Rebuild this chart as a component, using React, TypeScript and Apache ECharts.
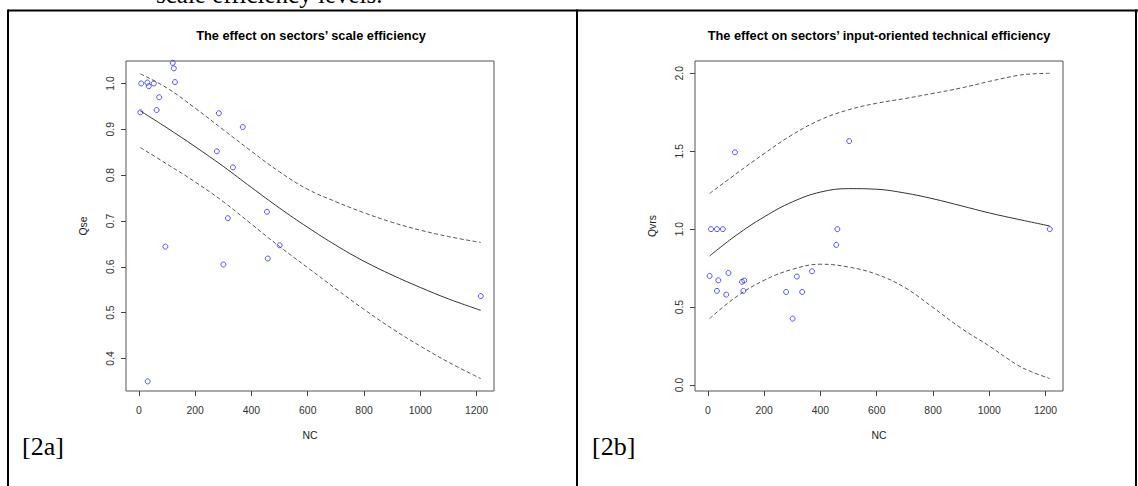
import React, { useEffect, useRef } from "react";
import * as echarts from "echarts";

// ---------- data ----------
const xTicks = [0, 200, 400, 600, 800, 1000, 1200];
const seTicks = [0.4, 0.5, 0.6, 0.7, 0.8, 0.9, 1.0];
const vrsTicks = [0, 0.5, 1.0, 1.5, 2.0];

// Panel 2a: scale efficiency (Qse vs NC)
const seX = [5, 8, 30, 31, 35, 53, 63, 72, 94, 120, 124, 128, 277, 284, 300, 316, 334, 369, 455, 458, 500, 1215];
const seY = [0.937, 1.0, 1.002, 0.35, 0.994, 1.0, 0.942, 0.97, 0.644, 1.045, 1.033, 1.003, 0.852, 0.935, 0.605, 0.706, 0.817, 0.905, 0.72, 0.618, 0.647, 0.536];

const seFitX = [5, 100, 200, 300, 400, 500, 600, 700, 800, 900, 1000, 1100, 1215];
const seFit = [0.94, 0.903, 0.862, 0.819, 0.773, 0.728, 0.686, 0.647, 0.612, 0.582, 0.555, 0.53, 0.505];
const seUpper = [1.021, 0.99, 0.946, 0.899, 0.852, 0.807, 0.769, 0.742, 0.718, 0.697, 0.68, 0.666, 0.653];
const seLower = [0.86, 0.824, 0.785, 0.742, 0.693, 0.644, 0.598, 0.552, 0.507, 0.465, 0.427, 0.392, 0.356];

// Panel 2b: input-oriented technical efficiency (Qvrs vs NC)
const vrsX = [6, 11, 32, 53, 37, 32, 65, 73, 96, 121, 126, 129, 278, 301, 316, 335, 370, 456, 460, 502, 1215];
const vrsY = [0.7, 1.0, 1.0, 1.0, 0.672, 0.604, 0.58, 0.719, 1.493, 0.662, 0.604, 0.67, 0.597, 0.426, 0.696, 0.597, 0.73, 0.899, 1.0, 1.565, 1.0];

const vrsFitX = [6, 100, 200, 300, 400, 500, 600, 700, 800, 900, 1000, 1100, 1150, 1215];
const vrsFit = [0.828, 0.96, 1.079, 1.175, 1.238, 1.26, 1.256, 1.232, 1.195, 1.15, 1.104, 1.064, 1.045, 1.02];
const vrsUpper = [1.229, 1.355, 1.485, 1.606, 1.702, 1.766, 1.808, 1.838, 1.871, 1.906, 1.948, 1.986, 1.996, 2.0];
const vrsLower = [0.426, 0.565, 0.672, 0.742, 0.775, 0.757, 0.71, 0.625, 0.497, 0.364, 0.25, 0.128, 0.085, 0.041];

const titles = [
  "The effect on sectors\u2019 scale efficiency",
  "The effect on sectors\u2019 input-oriented technical efficiency",
];

const FONT = "'Liberation Sans', Arial, sans-serif";
const SERIF = "'Liberation Serif', 'Times New Roman', serif";

const pairs = (xs: number[], ys: number[]) => xs.map((x, i) => [x, ys[i]]);

function xAxisFor(gridIndex: number) {
  return {
    gridIndex,
    type: "value",
    min: -46,
    max: 1262,
    name: "NC",
    nameLocation: "middle",
    nameGap: 39,
    nameTextStyle: { fontSize: 10.4, color: "#222", fontFamily: FONT },
    axisLine: { show: false, onZero: false },
    splitLine: { show: false },
    axisTick: { show: true, length: 5, customValues: xTicks, lineStyle: { color: "#444" } },
    axisLabel: {
      customValues: xTicks,
      margin: 14,
      fontSize: 10.4,
      color: "#333",
      fontFamily: FONT,
      formatter: (v: number) => String(v),
    },
  };
}

function yAxisFor(gridIndex: number, min: number, max: number, ticks: number[], name: string) {
  return {
    gridIndex,
    type: "value",
    min,
    max,
    name,
    nameLocation: "middle",
    nameGap: 38,
    nameRotate: 90,
    nameTextStyle: { fontSize: 10.4, color: "#222", fontFamily: FONT },
    axisLine: { show: false, onZero: false },
    splitLine: { show: false },
    axisTick: { show: true, length: 5, customValues: ticks, lineStyle: { color: "#444" } },
    axisLabel: {
      customValues: ticks,
      rotate: 90,
      margin: 11,
      fontSize: 10.4,
      color: "#333",
      fontFamily: FONT,
      formatter: (v: number) => v.toFixed(1),
    },
  };
}

function lineSeries(idx: number, xs: number[], ys: number[], dashed: boolean) {
  return {
    type: "line",
    xAxisIndex: idx,
    yAxisIndex: idx,
    data: pairs(xs, ys),
    showSymbol: false,
    smooth: 0.4,
    lineStyle: dashed
      ? { color: "#555", width: 1, type: [4, 2.5] }
      : { color: "#333", width: 1 },
    z: 2,
  };
}

function scatterSeries(idx: number, xs: number[], ys: number[]) {
  return {
    type: "scatter",
    xAxisIndex: idx,
    yAxisIndex: idx,
    data: pairs(xs, ys),
    symbol: "circle",
    symbolSize: 5,
    itemStyle: { color: "rgba(0,0,0,0)", borderColor: "#2a2aff", borderWidth: 1 },
    z: 3,
  };
}

export default function App() {
  const ref = useRef<HTMLDivElement>(null);
  useEffect(() => {
    if (!ref.current) return;
    const chart = echarts.init(ref.current, null, { renderer: "svg" });
    const option = {
      animation: false,
      backgroundColor: "#fff",
      title: [
        {
          text: titles[0],
          left: 311,
          top: 28.5,
          textAlign: "center",
          padding: 0,
          textStyle: { fontSize: 12.8, fontWeight: "bold", color: "#000", fontFamily: FONT },
        },
        {
          text: titles[1],
          left: 879,
          top: 28.5,
          textAlign: "center",
          padding: 0,
          textStyle: { fontSize: 12.8, fontWeight: "bold", color: "#000", fontFamily: FONT },
        },
      ],
      grid: [
        { left: 126, top: 61, width: 368, height: 330, show: true, borderColor: "#555", borderWidth: 1, containLabel: false },
        { left: 695, top: 61, width: 368, height: 330, show: true, borderColor: "#555", borderWidth: 1, containLabel: false },
      ],
      xAxis: [xAxisFor(0), xAxisFor(1)],
      yAxis: [
        yAxisFor(0, 0.329, 1.049, seTicks, "Qse"),
        yAxisFor(1, -0.0385, 2.079, vrsTicks, "Qvrs"),
      ],
      series: [
        lineSeries(0, seFitX, seFit, false),
        lineSeries(0, seFitX, seUpper, true),
        lineSeries(0, seFitX, seLower, true),
        scatterSeries(0, seX, seY),
        lineSeries(1, vrsFitX, vrsFit, false),
        lineSeries(1, vrsFitX, vrsUpper, true),
        lineSeries(1, vrsFitX, vrsLower, true),
        scatterSeries(1, vrsX, vrsY),
      ],
      graphic: [
        { type: "line", shape: { x1: 8, y1: 10.5, x2: 1138, y2: 10.5 }, style: { stroke: "#000", lineWidth: 2 } },
        { type: "line", shape: { x1: 8, y1: 9.5, x2: 8, y2: 486 }, style: { stroke: "#000", lineWidth: 2 } },
        { type: "line", shape: { x1: 577, y1: 9.5, x2: 577, y2: 486 }, style: { stroke: "#000", lineWidth: 2 } },
        { type: "line", shape: { x1: 1136, y1: 9.5, x2: 1136, y2: 486 }, style: { stroke: "#000", lineWidth: 2 } },
        {
          type: "text",
          x: 156,
          y: -5.5,
          style: { text: "scale efficiency levels.", font: `25px ${SERIF}`, fill: "#000", align: "left", verticalAlign: "middle" },
        },
        {
          type: "text",
          x: 22,
          y: 446,
          style: { text: "[2a]", font: `26px ${SERIF}`, fill: "#000", align: "left", verticalAlign: "middle" },
        },
        {
          type: "text",
          x: 592,
          y: 446,
          style: { text: "[2b]", font: `26px ${SERIF}`, fill: "#000", align: "left", verticalAlign: "middle" },
        },
      ],
    };
    chart.setOption(option as any);
    return () => chart.dispose();
  }, []);
  return (
    <div
      ref={ref}
      style={{ position: "fixed", left: 0, top: 0, width: 1138, height: 486, background: "#fff" }}
    />
  );
}
